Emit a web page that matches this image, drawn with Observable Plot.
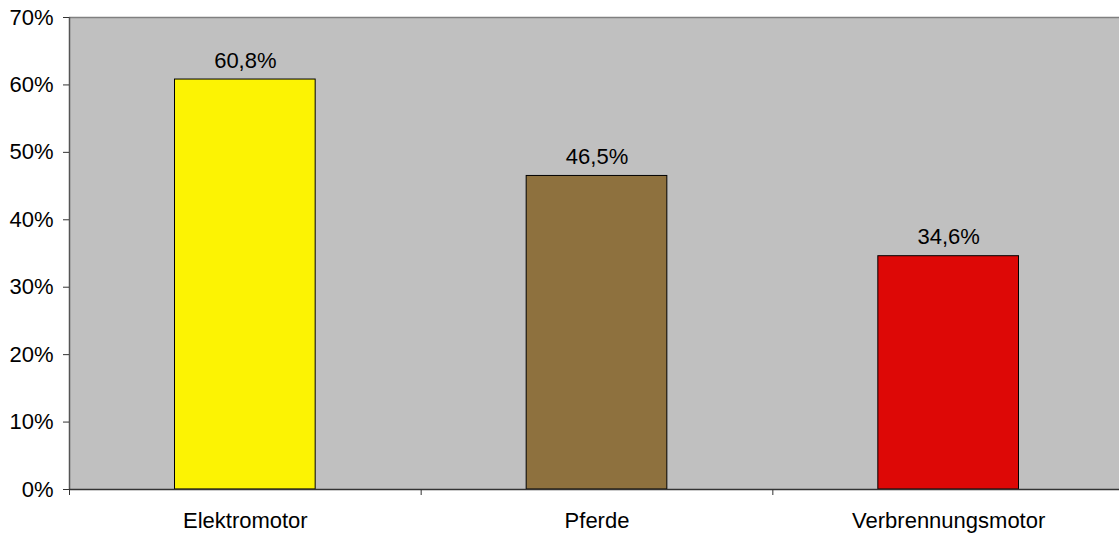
<!DOCTYPE html>
<html><head><meta charset="utf-8">
<script src="https://cdn.jsdelivr.net/npm/d3@7"></script>
<script src="https://cdn.jsdelivr.net/npm/@observablehq/plot@0.6"></script>
<style>body{margin:0;background:#fff;overflow:hidden;} svg{display:block;}</style>
</head><body><div id="chart"></div>
<script>
const categories = ["Elektromotor", "Pferde", "Verbrennungsmotor"];
const values = [60.8, 46.5, 34.6];
const valueLabels = ["60,8%", "46,5%", "34,6%"];
const barColors = ["#FCF303", "#8E713E", "#DD0806"];
const yTicks = [0, 10, 20, 30, 40, 50, 60, 70];

const data = categories.map((c, i) => ({cat: c, i, value: values[i], label: valueLabels[i], color: barColors[i]}));
const boundaries = d3.range(categories.length + 1);

const chart = Plot.plot({
  width: 1119, height: 533,
  marginLeft: 69, marginRight: 0, marginTop: 17, marginBottom: 44,
  style: {fontFamily: "'Liberation Sans', Arial, sans-serif", fontSize: "22px", color: "#000", background: "#fff"},
  x: {type: "linear", domain: [0, categories.length], range: [69, 1124]},
  y: {domain: [0, 70], label: null},
  marks: [
    Plot.frame({fill: "#C0C0C0", stroke: null}),
    Plot.ruleY([70], {stroke: "#808080", strokeWidth: 1.5}),
    Plot.ruleX([0], {stroke: "#555", strokeWidth: 1.5}),
    Plot.rectY(data, {x1: d => d.i + 0.3, x2: d => d.i + 0.7, y: "value", fill: "color", stroke: "#000", strokeWidth: 1}),
    Plot.text(data, {x: d => d.i + 0.5, y: "value", text: "label", lineAnchor: "bottom", dy: -12, fill: "#000", fontSize: 22}),
    Plot.ruleY([0], {stroke: "#333", strokeWidth: 1.5}),
    Plot.axisY({ticks: yTicks, tickFormat: d => d + "%", tickSize: 6, tickPadding: 10, stroke: "#333", fontSize: 22, label: null}),
    Plot.axisX({ticks: boundaries, tickFormat: () => "", tickSize: 6, stroke: "#333", label: null}),
    Plot.axisX({ticks: categories.map((c, i) => i + 0.5), tickFormat: (d, k) => categories[k], tickSize: 0, tickPadding: 23, fontSize: 22, label: null})
  ]
});
document.getElementById("chart").appendChild(chart);
</script></body></html>
